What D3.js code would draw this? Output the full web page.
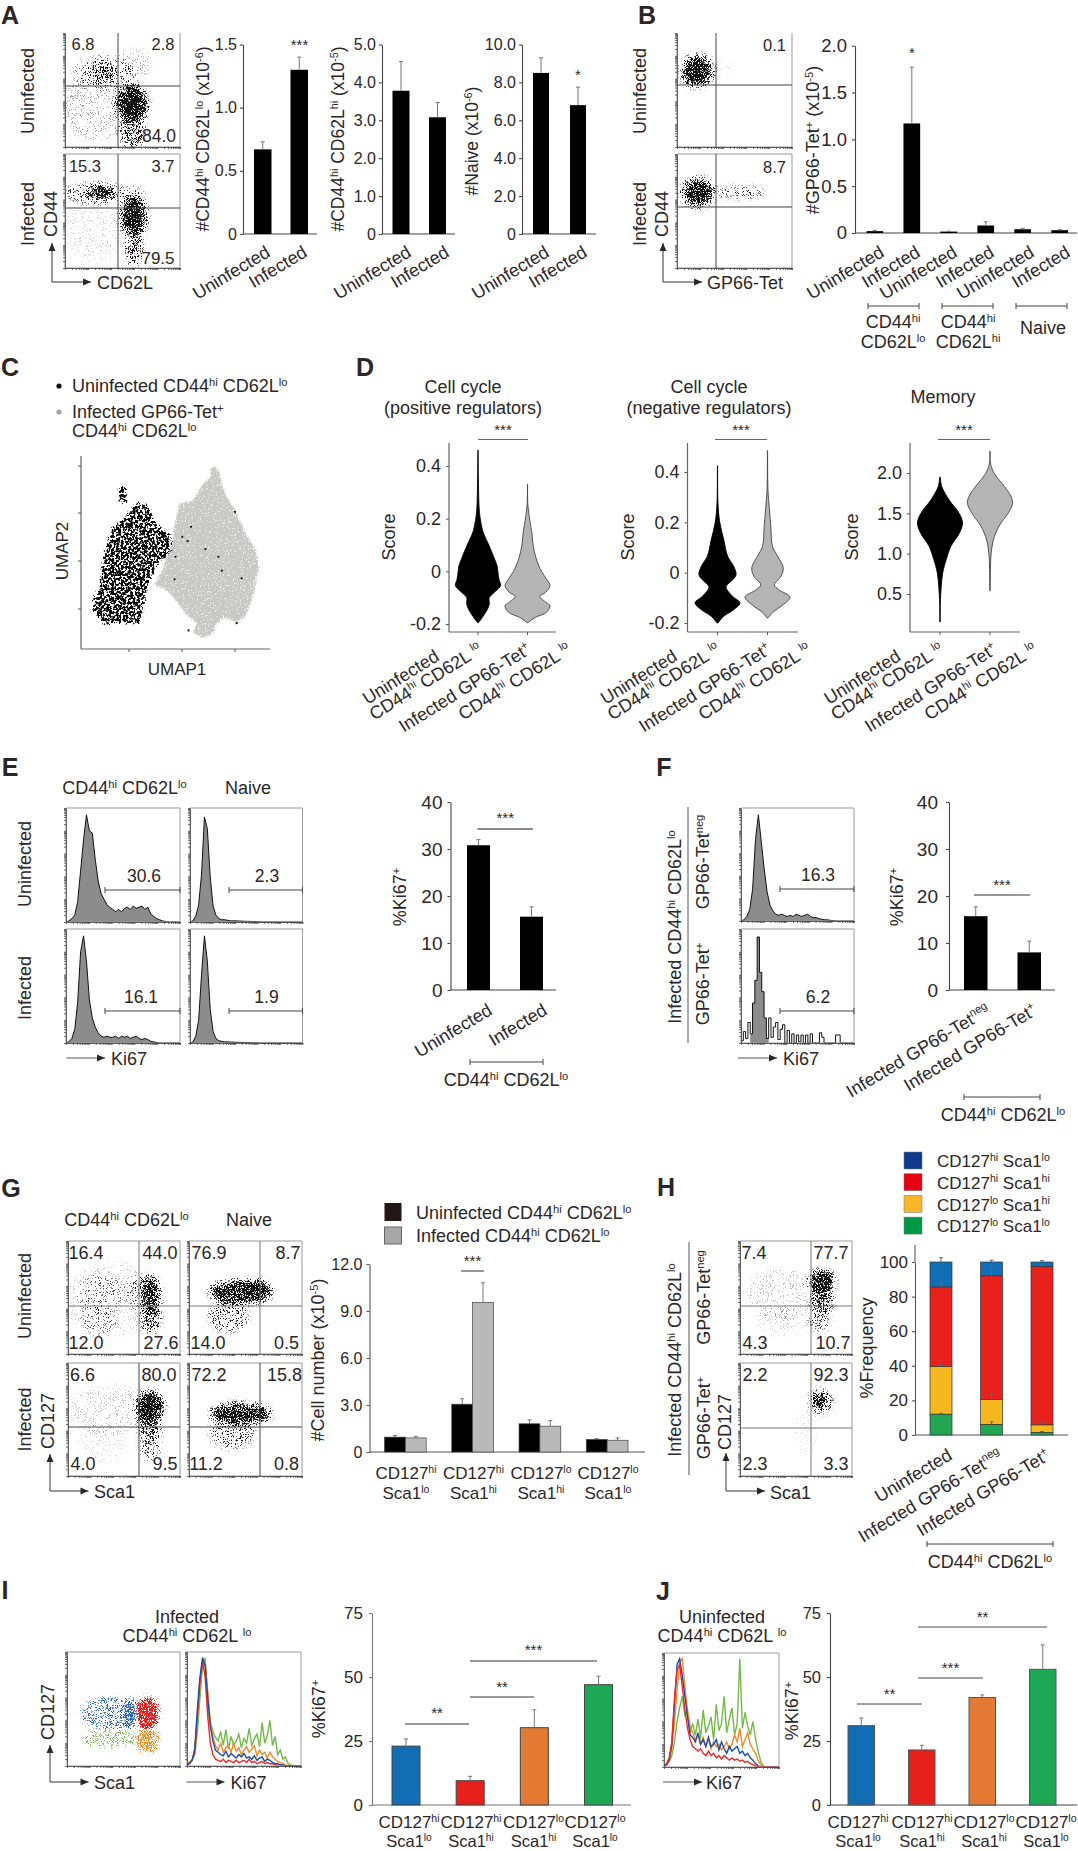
<!DOCTYPE html>
<html>
<head>
<meta charset="utf-8">
<script src="https://cdnjs.cloudflare.com/ajax/libs/d3/7.8.5/d3.min.js"></script>
<style>
body { margin: 0; background: #fff; }
svg { display: block; }
text { font-family: "Liberation Sans", Arial, sans-serif; fill: #2b2627; }
</style>
</head>
<body>
<svg id="fig" width="1078" height="1851"></svg>
<script>
/* SECTION: values */

var twoGroups = ["Uninfected", "Infected"];

var a1Values = [0.67, 1.3],  a1Tops = [0.73, 1.4];
var a2Values = [3.78, 3.08], a2Tops = [4.55, 3.47];
var a3Values = [8.5, 6.8],   a3Tops = [9.3, 7.75];
var a1Ticks = [0, 0.5, 1.0, 1.5], a1TickLabels = ["0", "0.5", "1.0", "1.5"];
var a2Ticks = [0, 1, 2, 3, 4, 5], a2TickLabels = ["0", "1.0", "2.0", "3.0", "4.0", "5.0"];
var a3Ticks = [0, 2, 4, 6, 8, 10], a3TickLabels = ["0", "2.0", "4.0", "6.0", "8.0", "10.0"];

var bGroups = ["Uninfected", "Infected", "Uninfected", "Infected", "Uninfected", "Infected"];
var bValues = [0.02, 1.17, 0.015, 0.08, 0.04, 0.03];
var bTops = [0.028, 1.77, 0.02, 0.12, 0.05, 0.035];
var bTicks = [0, 0.5, 1, 1.5, 2], bTickLabels = ["0", "0.5", "1.0", "1.5", "2.0"];

var eValues = [30.8, 15.6], eTops = [32, 17.7];
var fValues = [15.7, 8],    fTops = [17.7, 10.4];
var kiTicks = [0, 10, 20, 30, 40];
var fGroups = ["Infected GP66-Tet^neg^", "Infected GP66-Tet^+^"];

var gUninfected = [0.95, 3.05, 1.8, 0.8], gUninfectedTops = [1.05, 3.4, 2.05, 0.85];
var gInfected = [0.9, 9.55, 1.65, 0.75],  gInfectedTops = [1.0, 10.8, 2.0, 0.9];
var gTicks = [0, 3, 6, 9, 12], gTickLabels = ["0", "3.0", "6.0", "9.0", "12.0"];
var subsetTop = ["CD127^hi^", "CD127^hi^", "CD127^lo^", "CD127^lo^"];
var subsetBottom = ["Sca1^lo^", "Sca1^hi^", "Sca1^hi^", "Sca1^lo^"];

var hGroups = ["Uninfected", "Infected GP66-Tet^neg^", "Infected GP66-Tet^+^"];
var hGreen = [12, 6, 1.5], hYellow = [27.5, 14.5, 4.3], hRed = [46, 71.5, 91.5], hBlue = [14.5, 8, 2.7];
var hGreenTop = [12.6, 7.6, 2], hYellowTop = [40.8, 23.5, 7], hRedTop = [87.5, 97, 98], hBlueTop = [102.5, 101, 100.8];
var hTicks = [0, 20, 40, 60, 80, 100];

var iValues = [23, 9.5, 30.2, 47], iTops = [25.8, 11.2, 37.2, 50.3];
var jValues = [31, 21.5, 42, 53],  jTops = [34, 23.3, 43, 62.5];
var kiTicks75 = [0, 25, 50, 75];

// violins: [score, relative width]
var v1Black = [[0.46,0.005],[0.33,0.02],[0.24,0.05],[0.2,0.1],[0.15,0.22],[0.1,0.48],[0.05,0.72],[0.02,0.85],[0,0.88],[-0.03,0.93],[-0.055,1],[-0.08,0.72],[-0.1,0.5],[-0.125,0.5],[-0.15,0.38],[-0.18,0.15],[-0.195,0.02]];
var v1Gray = [[0.33,0.005],[0.25,0.02],[0.14,0.2],[0.1,0.25],[0.05,0.38],[0,0.62],[-0.03,0.85],[-0.055,1],[-0.08,0.8],[-0.095,0.55],[-0.12,0.85],[-0.13,1],[-0.155,0.85],[-0.175,0.35],[-0.195,0.02]];
var v2Black = [[0.425,0.005],[0.28,0.02],[0.2,0.1],[0.13,0.28],[0.065,0.45],[0.025,0.72],[-0.01,0.82],[-0.05,0.42],[-0.06,0.38],[-0.095,0.68],[-0.12,1],[-0.147,0.72],[-0.173,0.28],[-0.2,0.02]];
var v2Gray = [[0.485,0.005],[0.33,0.02],[0.26,0.08],[0.18,0.15],[0.105,0.22],[0.065,0.45],[0.02,0.7],[-0.015,0.6],[-0.048,0.3],[-0.068,0.5],[-0.097,1],[-0.134,0.6],[-0.154,0.28],[-0.18,0.02]];
var v3Black = [[1.95,0.01],[1.83,0.08],[1.66,0.42],[1.5,0.85],[1.38,1],[1.25,0.85],[1.09,0.48],[0.93,0.28],[0.76,0.12],[0.43,0.02],[0.155,0.01]];
var v3Gray = [[2.27,0.005],[2.11,0.03],[1.99,0.2],[1.83,0.65],[1.7,0.95],[1.62,1],[1.5,0.8],[1.34,0.4],[1.17,0.15],[0.97,0.04],[0.8,0.02],[0.54,0.01]];
var v1Ticks = [-0.2, 0, 0.2, 0.4], v1TickLabels = ["-0.2", "0", "0.2", "0.4"];
var v3Ticks = [0.5, 1, 1.5, 2], v3TickLabels = ["0.5", "1.0", "1.5", "2.0"];

// histograms: % of max per bin along the Ki67 axis
var histE1 = [0,1,3,6,18,45,72,94,80,78,55,36,25,20,15,13,11,9,11,9,12,13,11,14,12,13,14,11,13,7,5,3,2,1,0.5,0,0,0,0,0];
var histE2 = [0,1,5,15,42,92,82,40,14,6,3,2,2,1.5,1,1,1,0.8,0.8,0.6,0.6,0.5,0.4,0.3,0.2,0,0,0,0,0,0,0,0,0,0,0,0,0,0,0];
var histE3 = [0,1,4,12,36,80,94,72,38,22,14,9,6,5,6,5,5,6,4,6,5,6,4,5,6,4,3,4,3,1.5,1,0.5,0,0,0,0,0,0,0,0];
var histE4 = [0,1,6,20,60,94,72,30,10,4,2,1.5,1,1,0.8,0.8,0.6,0.6,0.5,0.5,0.4,0.3,0.2,0,0,0,0,0,0,0,0,0,0,0,0,0,0,0,0,0];
var histF1 = [0,1,4,10,28,72,94,70,46,26,14,9,6,5,6,5,4,5,4,6,5,4,5,6,4,3,3,2,1.5,1,1,0.5,0.3,0,0,0,0,0,0,0];
var histF2 = [2,10,4,18,8,35,55,93,62,45,22,4,22,5,14,18,3,12,16,0,11,0,8,0,7,1,7,0,7,0,8,0,0,0,9,5,0,0,0,0,0,7,7,0,0,0,0,0,0,0];
var histF2Shaded = [0,0,0,0,8,35,55,93,62,45,22,4,0,0,0,0,0,0,0,0,0,0,0,0,0,0,0,0,0,0,0,0,0,0,0,0,0,0,0,0,0,0,0,0,0,0,0,0,0,0];
var histIGreen = [1,3,6,10,30,60,88,95,50,38,30,25,22,30,18,32,15,26,18,22,28,16,24,20,33,18,24,28,17,38,20,27,40,18,26,10,14,6,8,2,1,0,0,0,0];
var histIOrange = [1,2,6,14,40,70,90,92,66,40,26,18,14,20,12,16,18,12,20,13,16,10,14,17,12,15,18,9,14,10,12,7,12,8,6,4,3,2,1,0,0,0,0,0,0];
var histIBlue = [1,2,5,15,50,78,95,88,60,35,22,14,12,10,9,13,8,11,9,7,10,8,11,7,8,6,9,5,7,8,4,6,5,3,2,2,1,1,0,0,0,0,0,0,0];
var histIRed = [1,3,5,12,44,74,92,78,44,20,10,6,5,4,6,3,5,4,3,5,3,4,5,3,6,3,4,2,3,4,2,3,2,2,1,1,1,0,0,0,0,0,0,0,0];
var histJGreen = [1,2,5,10,22,40,52,62,45,48,30,38,28,42,25,50,30,36,44,24,55,32,38,62,30,42,52,28,38,95,34,48,36,28,40,25,14,5,1,0,0,0,0,0,0];
var histJOrange = [1,2,6,16,40,68,92,95,70,50,36,30,24,28,20,26,18,24,16,22,18,20,15,18,22,16,20,28,22,34,18,24,30,20,16,12,6,2,0,0,0,0,0,0,0];
var histJBlue = [1,2,6,20,55,90,95,80,62,44,28,26,22,30,20,24,18,26,18,20,24,15,22,16,12,18,14,16,18,12,14,10,12,8,6,3,1,0,0,0,0,0,0,0,0];
var histJRed = [1,3,8,22,60,85,90,70,50,34,24,18,16,14,16,12,10,14,10,12,8,10,7,10,8,6,8,6,7,5,6,4,5,3,2,1,0,0,0,0,0,0,0,0,0];

// flow plots: populations as [x, y, spread x, spread y, density], axis fractions, y from the top
var flowA1 = [[0.26,0.65,0.27,0.26,0.1],[0.6,0.3,0.14,0.15,0.09],[0.34,0.34,0.24,0.13,0.2],[0.33,0.34,0.1,0.06,0.5],[0.586,0.854,0.09,0.15,0.55],[0.586,0.62,0.12,0.146,0.98]];
var flowA2 = [[0.26,0.66,0.24,0.26,0.05],[0.57,0.37,0.12,0.09,0.18],[0.26,0.34,0.22,0.075,0.34],[0.31,0.34,0.1,0.05,0.9],[0.6,0.82,0.06,0.15,0.55],[0.6,0.545,0.095,0.16,0.98]];
var flowB1 = [[0.4,0.3,0.08,0.05,0.04],[0.175,0.333,0.14,0.14,0.3],[0.175,0.333,0.1,0.105,1]];
var flowB2 = [[0.577,0.335,0.17,0.05,0.26],[0.37,0.34,0.08,0.04,0.14],[0.178,0.335,0.14,0.13,0.3],[0.178,0.335,0.1,0.095,1]];
var flowG11 = [[0.41,0.52,0.4,0.3,0.05],[0.29,0.46,0.2,0.15,0.14],[0.27,0.7,0.15,0.12,0.14],[0.65,0.46,0.11,0.15,0.24],[0.74,0.7,0.08,0.1,0.48],[0.74,0.49,0.07,0.16,0.8]];
var flowG12 = [[0.35,0.67,0.16,0.12,0.3],[0.46,0.45,0.25,0.09,0.85],[0.6,0.44,0.11,0.08,0.98]];
var flowG21 = [[0.38,0.42,0.33,0.2,0.07],[0.29,0.74,0.2,0.15,0.04],[0.74,0.76,0.09,0.09,0.28],[0.73,0.58,0.09,0.09,0.56],[0.73,0.39,0.11,0.12,0.98]];
var flowG22 = [[0.38,0.62,0.18,0.12,0.3],[0.46,0.45,0.24,0.08,0.9]];
var flowH1 = [[0.36,0.46,0.27,0.2,0.07],[0.36,0.7,0.2,0.12,0.05],[0.71,0.7,0.09,0.09,0.26],[0.73,0.53,0.09,0.1,0.6],[0.73,0.36,0.1,0.09,1]];
var flowH2 = [[0.6,0.6,0.1,0.2,0.03],[0.72,0.34,0.1,0.1,0.3],[0.72,0.34,0.05,0.05,1]];
var flowIBlue = [[0.38,0.54,0.24,0.13,0.36],[0.56,0.54,0.05,0.12,0.7]];
var flowIRed = [[0.71,0.54,0.09,0.13,0.92]];
var flowIGreen = [[0.38,0.76,0.22,0.08,0.36]];
var flowIOrange = [[0.71,0.77,0.09,0.1,0.72]];

// quadrant percentages, clockwise from top left
var quadA1 = ["6.8", "2.8", "84.0"], quadA2 = ["15.3", "3.7", "79.5"];
var quadG11 = ["16.4", "44.0", "27.6", "12.0"], quadG12 = ["76.9", "8.7", "0.5", "14.0"];
var quadG21 = ["6.6", "80.0", "9.5", "4.0"],   quadG22 = ["72.2", "15.8", "0.8", "11.2"];
var quadH1 = ["7.4", "77.7", "10.7", "4.3"],   quadH2 = ["2.2", "92.3", "3.3", "2.3"];

// UMAP outlines, axis fractions
var umapGray = [[0.709,0.95],[0.736,0.921],[0.745,0.861],[0.773,0.79],[0.818,0.721],[0.845,0.661],[0.882,0.584],[0.927,0.515],[0.945,0.427],[0.927,0.341],[0.909,0.255],[0.873,0.169],[0.827,0.134],[0.755,0.16],[0.709,0.117],[0.709,0.083],[0.645,0.053],[0.591,0.083],[0.609,0.134],[0.555,0.177],[0.482,0.272],[0.445,0.306],[0.382,0.332],[0.427,0.41],[0.482,0.565],[0.491,0.634],[0.518,0.754],[0.591,0.771],[0.645,0.857],[0.682,0.892],[0.682,0.935]];
var umapBlack = [[0.2,0.65],[0.3,0.76],[0.36,0.74],[0.38,0.665],[0.482,0.582],[0.473,0.496],[0.409,0.444],[0.355,0.341],[0.336,0.238],[0.309,0.134],[0.209,0.134],[0.118,0.126],[0.064,0.203],[0.064,0.263],[0.1,0.323],[0.118,0.478],[0.164,0.633]];
var umapBlackTop = [[0.214,0.845],[0.241,0.84],[0.236,0.788],[0.25,0.762],[0.205,0.757],[0.2,0.797],[0.2,0.832]];
var umapStray = [[0.815,0.71],[0.582,0.633],[0.536,0.581],[0.564,0.559],[0.658,0.518],[0.727,0.478],[0.5,0.478],[0.745,0.406],[0.495,0.361],[0.85,0.366],[0.569,0.096],[0.824,0.134]];

/* SECTION: helpers */

var svg = d3.select("#fig");
var defs = svg.append("defs");
var ink = "#2b2627";

function makeStipple(id, color, blur, freq, thresh) {
  var f = defs.append("filter").attr("id", id)
    .attr("x", -0.4).attr("y", -0.4).attr("width", 1.8).attr("height", 1.8)
    .attr("color-interpolation-filters", "sRGB");
  f.append("feGaussianBlur").attr("in", "SourceAlpha").attr("stdDeviation", blur).attr("result", "b");
  f.append("feTurbulence").attr("type", "fractalNoise").attr("baseFrequency", freq).attr("numOctaves", 2).attr("seed", 4).attr("result", "t");
  f.append("feColorMatrix").attr("in", "t").attr("type", "matrix")
    .attr("values", "0 0 0 0 0  0 0 0 0 0  0 0 0 0 0  3 0 0 0 -1").attr("result", "n");
  f.append("feComposite").attr("in", "b").attr("in2", "n").attr("operator", "arithmetic")
    .attr("k1", 0).attr("k2", 4).attr("k3", 4).attr("k4", -4 * (thresh || 1)).attr("result", "m");
  // a lower threshold would speckle the empty space too, so keep it inside the shape
  if (thresh) f.append("feComposite").attr("in", "m").attr("in2", "b").attr("operator", "in").attr("result", "m");
  f.append("feFlood").attr("flood-color", color).attr("result", "c");
  f.append("feComposite").attr("in", "c").attr("in2", "m").attr("operator", "in");
}
makeStipple("dotsBlack", "#111", 3, 1.4);
makeStipple("dotsBlue", "#2a63b4", 2.5, 1.4);
makeStipple("dotsRed", "#e5201e", 2.5, 1.4);
makeStipple("dotsGreen", "#77bb55", 2.5, 1.4);
makeStipple("dotsOrange", "#ee8f2c", 2.5, 1.4);
makeStipple("umapGrayDots", "#c8c8c6", 1.2, 0.6, 0.9);
makeStipple("umapBlackDots", "#0c0c0c", 1.2, 0.42);

// text with ^superscripts^
function rich(sel, str, size) {
  var parts = str.split("^");
  var shift = size * 0.38;
  parts.forEach(function(p, i) {
    if (!p) return;
    var t = sel.append("tspan").text(p);
    if (i % 2) {
      t.style("font-size", (size * 0.62) + "px").attr("dy", -shift);
    } else if (i > 0) {
      t.attr("dy", shift);
    }
  });
}

function label(x, y, str, opt) {
  opt = opt || {};
  var size = opt.size || 18;
  var g = svg.append("g").attr("transform", "translate(" + x + "," + y + ") rotate(" + (opt.rot || 0) + ")");
  var t = g.append("text").attr("y", size * 0.36)
    .attr("text-anchor", opt.anchor || "middle")
    .style("font-size", size + "px");
  if (opt.weight) t.style("font-weight", opt.weight);
  rich(t, str, size);
  return t;
}

function panelLetter(x, y, s) {
  label(x, y, s, { size: 25, weight: "bold" });
}

function rule(x1, y1, x2, y2, color, w) {
  svg.append("line").attr("x1", x1).attr("y1", y1).attr("x2", x2).attr("y2", y2)
    .attr("stroke", color || ink).attr("stroke-width", w || 1);
}

function sig(x1, x2, y, stars, ys, color, w) {
  rule(x1, y, x2, y, color || "#444", w || 1);
  label((x1 + x2) / 2, ys, stars, { size: 15 });
}

function bracket(x1, x2, y) {
  rule(x1, y, x2, y, "#444", 1);
  rule(x1, y - 3, x1, y + 3, "#444", 1);
  rule(x2, y - 3, x2, y + 3, "#444", 1);
}

function arrowHead(x, y, dir) {
  var p = dir == "up" ? [[x, y], [x - 3.5, y + 8], [x + 3.5, y + 8]] : [[x, y], [x - 8, y - 3.5], [x - 8, y + 3.5]];
  svg.append("path").attr("d", d3.line()(p) + "Z").attr("fill", ink);
}

function arrowL(cx, cy, top, right) {
  rule(cx, cy, cx, top, "#333", 1);
  rule(cx, cy, right, cy, "#333", 1);
  arrowHead(cx, top, "up");
  arrowHead(right, cy, "right");
}

function arrowR(x1, x2, y) {
  rule(x1, y, x2, y, "#555", 1.2);
  arrowHead(x2, y, "right");
}

/* SECTION: bars */

function barAxes(o, y) {
  var ax = d3.axisLeft(y).tickValues(o.ticks).tickSize(o.tickSize || 3).tickPadding(o.tickPad || 3).tickSizeOuter(0);
  ax.tickFormat(function(d, i) { return o.tickLabels ? o.tickLabels[i] : d; });
  var g = svg.append("g").attr("transform", "translate(" + o.axisX + ",0)").call(ax);
  g.selectAll("path,line").attr("stroke", o.axisColor || "#444").attr("stroke-width", 1.1);
  g.selectAll("text").style("font-size", (o.tickFont || 16) + "px").attr("fill", ink).attr("font-family", null);
  rule(o.axisX, o.y0, o.xEnd, o.y0, o.axisColor || "#444", 1.2);
}

function bandFor(n, left, right, width) {
  var gap = n > 1 ? (right - left - n * width) / (n - 1) : 0;
  return d3.scaleBand().domain(d3.range(n)).range([left, right]).paddingInner(gap / (gap + width));
}

function barChart(o) {
  var y = d3.scaleLinear().domain([0, o.max]).range([o.y0, o.y1]);
  var x = bandFor(o.values.length, o.left, o.right, o.barWidth);
  barAxes(o, y);
  var g = svg.append("g");
  o.tops.forEach(function(t, i) {
    var cx = x(i) + x.bandwidth() / 2;
    rule(cx, y(o.values[i]), cx, y(t), "#777", 1);
    rule(cx - 2, y(t), cx + 2, y(t), "#777", 1);
  });
  g.selectAll("rect").data(o.values).enter().append("rect")
    .attr("x", function(d, i) { return x(i); })
    .attr("width", x.bandwidth())
    .attr("y", function(d) { return y(d); })
    .attr("height", function(d) { return y(0) - y(d); })
    .attr("fill", function(d, i) { return o.colors ? o.colors[i] : "#000"; })
    .attr("stroke", o.barStroke || "none");
  return { x: x, y: y };
}

function rotLabels(list, ends, y, size) {
  list.forEach(function(s, i) {
    label(ends[i], y, s, { rot: -31, anchor: "end", size: size || 18 });
  });
}

/* SECTION: flow plots and histograms */

function flowFrame(o) {
  var lx = d3.scaleLog().domain([1, 100000]).range([o.x0, o.x1]);
  var ly = d3.scaleLog().domain([1, 100000]).range([o.y1, o.y0]);
  // first row of A and B has no top edge
  var sides = o.noTop ? [[o.x0, o.y0], [o.x0, o.y1], [o.x1, o.y1], [o.x1, o.y0]]
                      : [[o.x0, o.y0], [o.x0, o.y1], [o.x1, o.y1], [o.x1, o.y0], [o.x0, o.y0]];
  svg.append("path").attr("d", d3.line()(sides))
    .attr("fill", "none").attr("stroke", "#999").attr("stroke-width", 1);
  var b = svg.append("g").attr("transform", "translate(0," + o.y1 + ")")
    .call(d3.axisBottom(lx).tickSize(2).tickFormat("").tickSizeOuter(0));
  var l = svg.append("g").attr("transform", "translate(" + o.x0 + ",0)")
    .call(d3.axisLeft(ly).tickSize(2).tickFormat("").tickSizeOuter(0));
  b.selectAll("path,line").attr("stroke", "#444").attr("stroke-width", 0.8);
  l.selectAll("path,line").attr("stroke", "#444").attr("stroke-width", 0.8);
}

var clipCount = 0;
var spreadBoost = 1.12;
function cloud(o, blobs, filterId, clip) {
  var x = d3.scaleLinear().domain([0, 1]).range([o.x0, o.x1]);
  var y = d3.scaleLinear().domain([0, 1]).range([o.y0, o.y1]);
  var sx = d3.scaleLinear().domain([0, 1]).range([0, o.x1 - o.x0]);
  var sy = d3.scaleLinear().domain([0, 1]).range([0, o.y1 - o.y0]);
  var id = "clip" + (clipCount++);
  var c = clip || [0, 0, 1, 1];
  defs.append("clipPath").attr("id", id).append("rect")
    .attr("x", x(c[0])).attr("y", y(c[1])).attr("width", sx(c[2] - c[0])).attr("height", sy(c[3] - c[1]));
  var g = svg.append("g").attr("clip-path", "url(#" + id + ")").append("g").attr("filter", "url(#" + filterId + ")");
  g.selectAll("ellipse").data(blobs).enter().append("ellipse")
    .attr("cx", function(d) { return x(d[0]); })
    .attr("cy", function(d) { return y(d[1]); })
    .attr("rx", function(d) { return sx(d[2]) * spreadBoost; })
    .attr("ry", function(d) { return sy(d[3]) * spreadBoost; })
    .attr("fill", "#000")
    .attr("fill-opacity", function(d) { return d[4]; });
}

function flow(o, blobs) {
  cloud(o, blobs, "dotsBlack");
  flowFrame(o);
  rule(o.gx, o.y0, o.gx, o.y1, o.gateColor || "#444", 1);
  rule(o.x0, o.gy, o.x1, o.gy, o.gateColor || "#444", 1);
}

function histLayer(o, values, line, fill) {
  var x = d3.scaleLinear().domain([0, values.length - 1]).range([o.x0, o.x1]);
  var y = d3.scaleLinear().domain([0, 100]).range([o.y1, o.y0]);
  var curve = o.curve || d3.curveLinear;
  if (fill) {
    svg.append("path").datum(values)
      .attr("d", d3.area().x(function(d, i) { return x(i); }).y0(o.y1).y1(function(d) { return y(d); }).curve(curve))
      .attr("fill", fill).attr("stroke", "none");
  }
  if (line) {
    svg.append("path").datum(values)
      .attr("d", d3.line().x(function(d, i) { return x(i); }).y(function(d) { return y(d); }).curve(curve))
      .attr("fill", "none").attr("stroke", line).attr("stroke-width", o.lineW || 1);
  }
}

function hist(o, values, gateFrom, pct, pctX, shaded) {
  if (shaded) {
    histLayer(o, shaded, null, "#8c8c8c");
    histLayer(o, values, "#111");
  } else {
    histLayer(o, values, "#111", "#8c8c8c");
  }
  flowFrame(o);
  bracket(gateFrom, o.x1, o.gy);
  label(pctX, o.gy - 14, pct, { size: 17.5 });
}

function violin(cx, y, series, fill, stroke) {
  var w = d3.scaleLinear().domain([0, 1]).range([0, 22.5]);
  var area = d3.area()
    .y(function(d) { return y(d[0]); })
    .x0(function(d) { return cx - w(d[1]); })
    .x1(function(d) { return cx + w(d[1]); })
    .curve(d3.curveCatmullRom.alpha(0.5));
  svg.append("path").datum(series).attr("d", area)
    .attr("fill", fill).attr("stroke", stroke).attr("stroke-width", 0.9);
}

function violinPanel(o) {
  var y = d3.scaleLinear().domain(o.domain).range(o.range);
  var g = svg.append("g").attr("transform", "translate(" + o.axisX + ",0)")
    .call(d3.axisLeft(y).tickValues(o.ticks).tickSize(3).tickPadding(5)
      .tickFormat(function(d, i) { return o.tickLabels[i]; }).tickSizeOuter(0));
  g.selectAll("path,line").attr("stroke", "#555");
  g.select("path.domain").remove();
  g.selectAll("text").style("font-size", "18px").attr("fill", ink);
  rule(o.axisX, 443, o.axisX, 632, "#666", 1.2);
  rule(o.axisX, 632, o.xEnd, 632, "#666", 1.2);
  var x = d3.scalePoint().domain(["u", "i"]).range(o.cats);
  x.domain().forEach(function(k) { rule(x(k), 632, x(k), 635, "#555", 1); });
  violin(x("u"), y, o.black, "#000", "#000");
  violin(x("i"), y, o.gray, "#b4b4b4", "#444");
  sig(o.sig[0], o.sig[1], 439.5, "***", 429.5, "#666", 1.2);
  label(o.scoreX, 537, "Score", { rot: -90 });
  // category labels, both lines end-anchored along the slope
  label(o.end1, 647, "CD44^hi^ CD62L ^lo^", { rot: -32, anchor: "end" });
  label(o.end1 - 43, 654, "Uninfected", { rot: -32, anchor: "end" });
  label(o.end2, 647, "CD44^hi^ CD62L ^lo^", { rot: -32, anchor: "end" });
  label(o.end2 - 40, 647, "Infected GP66-Tet^+^", { rot: -32, anchor: "end" });
}

/* SECTION: panel A */

panelLetter(10, 15, "A");
var a1 = { x0: 65, x1: 180, y0: 33, y1: 147, gx: 118, gy: 86, noTop: true };
var a2 = { x0: 65, x1: 180, y0: 154, y1: 268, gx: 118, gy: 208 };
flow(a1, flowA1); flow(a2, flowA2);
var quadA = { size: 16.5 };
label(83, 44, quadA1[0], quadA); label(163, 44, quadA1[1], quadA); label(159, 136, quadA1[2], { size: 17.5 });
label(85, 166, quadA2[0], quadA); label(163, 166, quadA2[1], quadA); label(158, 258, quadA2[2], { size: 17 });
label(28, 91, "Uninfected", { rot: -90 });
label(28, 214, "Infected", { rot: -90 });
label(51, 214, "CD44", { rot: -90 });
arrowL(52, 282, 243, 91);
label(97, 283, "CD62L", { anchor: "start" });

barChart({ axisX: 243, xEnd: 317, y0: 234, y1: 44.5, max: 1.5, ticks: a1Ticks, tickLabels: a1TickLabels, values: a1Values, tops: a1Tops, left: 254, right: 308, barWidth: 17.5 });
barChart({ axisX: 382, xEnd: 455, y0: 234, y1: 44.5, max: 5, ticks: a2Ticks, tickLabels: a2TickLabels, values: a2Values, tops: a2Tops, left: 392.5, right: 446, barWidth: 17 });
barChart({ axisX: 522, xEnd: 596, y0: 234, y1: 44.5, max: 10, ticks: a3Ticks, tickLabels: a3TickLabels, values: a3Values, tops: a3Tops, left: 533, right: 586, barWidth: 16 });
label(203, 139, "#CD44^hi^ CD62L^lo^ (x10^-6^)", { rot: -90, size: 17.5 });
label(338, 139, "#CD44^hi^ CD62L^hi^ (x10^-5^)", { rot: -90, size: 17.5 });
label(472, 141, "#Naive (x10^-6^)", { rot: -90, size: 17.5 });
label(299.5, 45, "***", { size: 15 });
label(578, 75, "*", { size: 15 });
rotLabels(twoGroups, [268, 305], 250);
rotLabels(twoGroups, [409, 447], 250);
rotLabels(twoGroups, [547, 585], 250);

/* SECTION: panel B */

panelLetter(647, 15, "B");
var b1 = { x0: 677, x1: 792, y0: 33, y1: 147, gx: 716, gy: 85, noTop: true };
var b2 = { x0: 677, x1: 792, y0: 154, y1: 268, gx: 716, gy: 207 };
flow(b1, flowB1); flow(b2, flowB2);
label(786, 45, "0.1", { anchor: "end", size: 16.5 }); label(786, 167, "8.7", { anchor: "end", size: 16.5 });
label(640, 91, "Uninfected", { rot: -90 });
label(640, 214, "Infected", { rot: -90 });
label(662, 214, "CD44", { rot: -90 });
arrowL(663, 282, 243, 702);
label(707, 283, "GP66-Tet", { anchor: "start" });
barChart({ axisX: 855, xEnd: 1077, y0: 233, y1: 45.7, max: 2, ticks: bTicks, tickLabels: bTickLabels, values: bValues, tops: bTops, left: 866.5, right: 1068, barWidth: 16.7, tickFont: 18.5, tickPad: 5 });
label(813, 140, "#GP66-Tet^+^ (x10^-5^)", { rot: -90 });
label(912, 53, "*", { size: 15 });
rotLabels(bGroups, [882, 918, 955, 992, 1032, 1068], 250);
bracket(868, 919, 306); bracket(942, 993, 306); bracket(1016, 1067, 306);
label(893, 322, "CD44^hi^"); label(893, 342, "CD62L^lo^");
label(968, 322, "CD44^hi^"); label(968, 342, "CD62L^hi^");
label(1043, 328, "Naive");

/* SECTION: panel C */

panelLetter(10, 367, "C");
svg.append("circle").attr("cx", 59).attr("cy", 386).attr("r", 2.6).attr("fill", "#111");
svg.append("circle").attr("cx", 59).attr("cy", 412).attr("r", 2.6).attr("fill", "#a5a5a5");
label(72, 386, "Uninfected CD44^hi^ CD62L^lo^", { anchor: "start" });
label(72, 412, "Infected GP66-Tet^+^", { anchor: "start" });
label(72, 431, "CD44^hi^ CD62L^lo^", { anchor: "start" });

var umapX = d3.scaleLinear().domain([0, 1]).range([81, 270]);
var umapY = d3.scaleLinear().domain([0, 1]).range([649, 456]);
var umapLine = d3.line().x(function(d) { return umapX(d[0]); }).y(function(d) { return umapY(d[1]); });
svg.append("g").attr("filter", "url(#umapGrayDots)").append("path")
  .attr("d", umapLine(umapGray) + "Z").attr("fill", "#000").attr("fill-opacity", 1);
var umapB = svg.append("g").attr("filter", "url(#umapBlackDots)");
umapB.append("path").attr("d", umapLine(umapBlack) + "Z").attr("fill", "#000").attr("fill-opacity", 0.74);
umapB.append("path").attr("d", umapLine(umapBlackTop) + "Z").attr("fill", "#000").attr("fill-opacity", 0.8);
svg.append("g").selectAll("circle").data(umapStray).enter().append("circle")
  .attr("cx", function(d) { return umapX(d[0]); }).attr("cy", function(d) { return umapY(d[1]); })
  .attr("r", 1.1).attr("fill", "#111");
rule(81, 456, 81, 649, "#666", 1.2);
rule(81, 649, 270, 649, "#666", 1.2);
[466, 513, 561, 609].forEach(function(v) { rule(78, v, 81, v, "#555", 1); });
[129, 182, 235].forEach(function(v) { rule(v, 649, v, 652, "#555", 1); });
label(62, 551, "UMAP2", { rot: -90, size: 17 });
label(177, 669, "UMAP1", { size: 17 });

/* SECTION: panel D */

panelLetter(365, 367, "D");
label(463, 387, "Cell cycle");
label(463, 408, "(positive regulators)");
label(709, 387, "Cell cycle");
label(709, 408, "(negative regulators)");
label(943, 397, "Memory");
violinPanel({ axisX: 449, xEnd: 556, domain: [-0.2, 0.4], range: [624, 466], ticks: v1Ticks, tickLabels: v1TickLabels, cats: [478, 527.5], black: v1Black, gray: v1Gray, sig: [478, 528], scoreX: 389, end1: 480, end2: 569 });
violinPanel({ axisX: 687.5, xEnd: 798, domain: [-0.2, 0.4], range: [623, 472], ticks: v1Ticks, tickLabels: v1TickLabels, cats: [717.5, 767.5], black: v2Black, gray: v2Gray, sig: [715, 767], scoreX: 627.5, end1: 718, end2: 809 });
violinPanel({ axisX: 910, xEnd: 1020, domain: [0.5, 2], range: [594, 473], ticks: v3Ticks, tickLabels: v3TickLabels, cats: [940, 990], black: v3Black, gray: v3Gray, sig: [938, 990], scoreX: 852, end1: 941.5, end2: 1035 });

/* SECTION: panel E */

panelLetter(10, 767, "E");
label(124.5, 788, "CD44^hi^ CD62L^lo^");
label(248, 788, "Naive");
hist({ x0: 66, x1: 180, y0: 808, y1: 922, gy: 890 }, histE1, 105, "30.6", 144);
hist({ x0: 190, x1: 302.5, y0: 808, y1: 922, gy: 890 }, histE2, 229, "2.3", 267);
hist({ x0: 66, x1: 180, y0: 929, y1: 1043, gy: 1011 }, histE3, 105, "16.1", 141);
hist({ x0: 190, x1: 302.5, y0: 929, y1: 1043, gy: 1011 }, histE4, 229, "1.9", 266.5);
label(25, 864, "Uninfected", { rot: -90 });
label(25, 988, "Infected", { rot: -90 });
arrowR(66.5, 105, 1058);
label(111, 1059, "Ki67", { anchor: "start" });
barChart({ axisX: 450.5, xEnd: 556, y0: 990, y1: 802, max: 40, ticks: kiTicks, values: eValues, tops: eTops, left: 467, right: 543, barWidth: 23, tickPad: 5, tickFont: 19 });
sig(477.5, 533, 829, "***", 818, "#666", 1.4);
label(400, 897, "%Ki67^+^", { rot: -90 });
rotLabels(twoGroups, [490, 545], 1008);
bracket(470, 543, 1062);
label(506, 1080, "CD44^hi^ CD62L^lo^");

/* SECTION: panel F */

panelLetter(664, 767, "F");
hist({ x0: 741, x1: 854, y0: 808, y1: 921, gy: 889 }, histF1, 780, "16.3", 818);
hist({ x0: 741, x1: 854, y0: 929, y1: 1043, gy: 1011, curve: d3.curveStepAfter }, histF2, 780, "6.2", 818, histF2Shaded);
label(675, 927, "Infected CD44^hi^ CD62L^lo^", { rot: -90 });
rule(688, 807, 688, 1043, "#555", 1);
label(703, 862, "GP66-Tet^neg^", { rot: -90 });
label(703, 984, "GP66-Tet^+^", { rot: -90 });
arrowR(738, 777, 1058);
label(783, 1059, "Ki67", { anchor: "start" });
barChart({ axisX: 949, xEnd: 1055, y0: 990, y1: 802, max: 40, ticks: kiTicks, values: fValues, tops: fTops, left: 964, right: 1041, barWidth: 23.5, tickPad: 8, tickFont: 19 });
sig(974, 1030, 895, "***", 885, "#333", 1);
label(897, 897, "%Ki67^+^", { rot: -90 });
rotLabels(fGroups, [988, 1035], 1008);
bracket(964, 1040, 1097);
label(1003, 1115, "CD44^hi^ CD62L^lo^");

/* SECTION: panel G */

panelLetter(11, 1188, "G");
label(126.5, 1220, "CD44^hi^ CD62L^lo^");
label(249, 1220, "Naive");
flow({ x0: 68, x1: 180, y0: 1241, y1: 1354, gx: 139, gy: 1306, gateColor: "#777" }, flowG11);
flow({ x0: 189, x1: 302, y0: 1241, y1: 1354, gx: 260, gy: 1306, gateColor: "#777" }, flowG12);
flow({ x0: 68, x1: 180, y0: 1363, y1: 1476, gx: 139, gy: 1427 }, flowG21);
flow({ x0: 189, x1: 302, y0: 1363, y1: 1476, gx: 260, gy: 1427 }, flowG22);
var gXs = [[86, 160, 161, 86], [209, 288, 286.5, 208], [82.5, 159, 165, 83], [209, 284.5, 286.5, 206]];
[quadG11, quadG12, quadG21, quadG22].forEach(function(q, i) {
  var top = i < 2 ? 1253 : 1375, bot = i < 2 ? 1343 : 1464;
  label(gXs[i][0], top, q[0]); label(gXs[i][1], top, q[1]);
  label(gXs[i][2], bot, q[2]); label(gXs[i][3], bot, q[3]);
});
label(24.5, 1296, "Uninfected", { rot: -90 });
label(24.5, 1419.5, "Infected", { rot: -90 });
label(48, 1421, "CD127", { rot: -90 });
arrowL(50, 1491, 1454, 88.5);
label(94, 1492, "Sca1", { anchor: "start" });
svg.append("rect").attr("x", 384.5).attr("y", 1203).attr("width", 17).attr("height", 18).attr("fill", "#231815");
svg.append("rect").attr("x", 384.5).attr("y", 1227).attr("width", 17).attr("height", 17).attr("fill", "#a8a8a8").attr("stroke", "#666");
label(416, 1213, "Uninfected CD44^hi^ CD62L^lo^", { anchor: "start" });
label(416, 1236, "Infected CD44^hi^ CD62L^lo^", { anchor: "start" });

(function() {
  var y = d3.scaleLinear().domain([0, 12]).range([1452, 1264]);
  var x0 = d3.scaleBand().domain(d3.range(4)).range([384.5, 628]).paddingInner(0.38);
  var o = { axisX: 369.5, xEnd: 645, y0: 1452, ticks: gTicks, tickLabels: gTickLabels, tickPad: 4, axisColor: "#555" };
  barAxes(o, y);
  var x1 = d3.scaleBand().domain([0, 1]).range([0, x0.bandwidth()]);
  [[gUninfected, gUninfectedTops, "#000"], [gInfected, gInfectedTops, "#b9b9b9"]].forEach(function(s, k) {
    s[0].forEach(function(v, i) {
      var cx = x0(i) + x1(k) + x1.bandwidth() / 2;
      rule(cx, y(v), cx, y(s[1][i]), "#777", 1);
      rule(cx - 2, y(s[1][i]), cx + 2, y(s[1][i]), "#777", 1);
      svg.append("rect").attr("x", x0(i) + x1(k)).attr("width", x1.bandwidth())
        .attr("y", y(v)).attr("height", y(0) - y(v)).attr("fill", s[2])
        .attr("stroke", "#444").attr("stroke-width", 0.7);
    });
  });
})();
sig(461, 484, 1271, "***", 1261, "#333", 1);
label(318, 1360, "#Cell number (x10^-5^)", { rot: -90 });
var gCenters = [406, 473.5, 541, 608];
subsetTop.forEach(function(s, i) { label(gCenters[i], 1473, s, { size: 17 }); });
subsetBottom.forEach(function(s, i) { label(gCenters[i], 1493, s, { size: 17 }); });

/* SECTION: panel H */

panelLetter(666, 1187, "H");
var hLegend = [["#0f3a8c", "CD127^hi^ Sca1^lo^"], ["#e60012", "CD127^hi^ Sca1^hi^"], ["#f9b62a", "CD127^lo^ Sca1^hi^"], ["#009944", "CD127^lo^ Sca1^lo^"]];
hLegend.forEach(function(l, i) {
  var ys = 1152 + i * 21.7;
  svg.append("rect").attr("x", 904).attr("y", ys).attr("width", 18).attr("height", 17).attr("fill", l[0]).attr("stroke", "#777").attr("stroke-width", 0.5);
  label(937, ys + 9, l[1], { anchor: "start", size: 17 });
});
flow({ x0: 740, x1: 852, y0: 1241, y1: 1354, gx: 811, gy: 1306, gateColor: "#777" }, flowH1);
flow({ x0: 740, x1: 852, y0: 1363, y1: 1476, gx: 811, gy: 1428, gateColor: "#777" }, flowH2);
label(754, 1253, quadH1[0]); label(831, 1253, quadH1[1]); label(833, 1343, quadH1[2]); label(755, 1343, quadH1[3]);
label(755, 1375, quadH2[0]); label(831, 1375, quadH2[1]); label(836, 1464, quadH2[2]); label(755, 1464, quadH2[3]);
label(675, 1360, "Infected CD44^hi^ CD62L^lo^", { rot: -90 });
rule(689, 1242, 689, 1475, "#555", 1);
label(704, 1297.5, "GP66-Tet^neg^", { rot: -90 });
label(704, 1418, "GP66-Tet^+^", { rot: -90 });
label(725, 1422, "CD127", { rot: -90 });
arrowL(726, 1491, 1453, 765);
label(770, 1493, "Sca1", { anchor: "start" });

(function() {
  var y = d3.scaleLinear().domain([0, 100]).range([1435, 1262]);
  var x = bandFor(3, 930, 1053, 22);
  barAxes({ axisX: 915, xEnd: 1068, y0: 1435, ticks: hTicks, tickPad: 4, axisColor: "#555", tickFont: 17 }, y);
  rule(915, 1245, 915, 1262, "#555", 1.1);
  var keys = ["green", "yellow", "red", "blue"];
  var rows = hGroups.map(function(g, i) { return { green: hGreen[i], yellow: hYellow[i], red: hRed[i], blue: hBlue[i] }; });
  var colors = { green: "#22a652", yellow: "#f5b81f", red: "#e8211c", blue: "#1170b5" };
  var tops = { green: hGreenTop, yellow: hYellowTop, red: hRedTop, blue: hBlueTop };
  d3.stack().keys(keys)(rows).reverse().forEach(function(layer) {
    layer.forEach(function(d, i) {
      svg.append("rect").attr("x", x(i)).attr("width", x.bandwidth())
        .attr("y", y(d[1])).attr("height", y(d[0]) - y(d[1]))
        .attr("fill", colors[layer.key]).attr("stroke", "#333").attr("stroke-width", 0.7);
    });
  });
  keys.forEach(function(k) {
    tops[k].forEach(function(t, i) {
      var cx = x(i) + x.bandwidth() / 2;
      var base = d3.stack().keys(keys)(rows)[keys.indexOf(k)][i][1];
      rule(cx, y(base), cx, y(t), "#666", 1);
      rule(cx - 2, y(t), cx + 2, y(t), "#666", 1);
    });
  });
})();
label(867, 1348, "%Frequency", { rot: -90 });
rotLabels(hGroups, [950, 1000, 1048], 1453);
bracket(927, 1053, 1544);
label(990, 1562, "CD44^hi^ CD62L^lo^");

/* SECTION: panel I */

panelLetter(5, 1590, "I");
label(187, 1617, "Infected");
label(187, 1636, "CD44^hi^ CD62L ^lo^");
var iScatter = { x0: 67, x1: 180, y0: 1652, y1: 1766 };
cloud(iScatter, flowIBlue, "dotsBlue", [0, 0, 0.614, 0.677]);
cloud(iScatter, flowIRed, "dotsRed", [0.614, 0, 1, 0.677]);
cloud(iScatter, flowIGreen, "dotsGreen", [0, 0.677, 0.614, 1]);
cloud(iScatter, flowIOrange, "dotsOrange", [0.614, 0.677, 1, 1]);
flowFrame(iScatter);
var iHist = { x0: 187, x1: 301, y0: 1652, y1: 1766, lineW: 1.4 };
histLayer(iHist, histIGreen, "#74b94a");
histLayer(iHist, histIOrange, "#ee8c28");
histLayer(iHist, histIRed, "#ee2a24");
histLayer(iHist, histIBlue, "#1c4ea8");
flowFrame(iHist);
label(48, 1712, "CD127", { rot: -90 });
arrowL(50, 1782, 1745, 88.5);
label(94, 1783, "Sca1", { anchor: "start" });
arrowR(186.5, 224.5, 1782);
label(230.5, 1783, "Ki67", { anchor: "start" });
var subsetColors = ["#116db4", "#e8201c", "#e27a33", "#1ea855"];
barChart({ axisX: 372, xEnd: 631, y0: 1805, y1: 1613, max: 75, ticks: kiTicks75, values: iValues, tops: iTops, left: 392, right: 612.5, barWidth: 28, colors: subsetColors, barStroke: "#444", tickPad: 6, axisColor: "#777", tickFont: 17 });
sig(405, 469, 1724, "**", 1713, "#777", 1.3);
sig(470, 534, 1697, "**", 1687, "#777", 1.3);
sig(470, 597, 1661, "***", 1650, "#777", 1.3);
label(319, 1709, "%Ki67^+^", { rot: -90 });
var iCenters = [409, 471, 533.5, 595];
subsetTop.forEach(function(s, i) { label(iCenters[i], 1822, s, { size: 17 }); });
subsetBottom.forEach(function(s, i) { label(iCenters[i], 1841, s, { size: 16.5 }); });

/* SECTION: panel J */

panelLetter(663, 1591, "J");
label(722, 1617, "Uninfected");
label(722, 1636, "CD44^hi^ CD62L ^lo^");
var jHist = { x0: 664, x1: 779, y0: 1653, y1: 1767, lineW: 1.4 };
histLayer(jHist, histJGreen, "#74b94a");
histLayer(jHist, histJOrange, "#ee8c28");
histLayer(jHist, histJBlue, "#1c4ea8");
histLayer(jHist, histJRed, "#ee2a24");
flowFrame(jHist);
arrowR(663, 702, 1782);
label(706, 1783, "Ki67", { anchor: "start" });
barChart({ axisX: 830, xEnd: 1077, y0: 1805, y1: 1613, max: 75, ticks: kiTicks75, values: jValues, tops: jTops, left: 848, right: 1056, barWidth: 26.5, colors: subsetColors, barStroke: "#555", tickPad: 6, tickFont: 16.5 });
sig(857, 922, 1704, "**", 1694, "#444", 1);
sig(918, 983, 1678, "***", 1668, "#444", 1);
sig(918, 1047, 1627, "**", 1617, "#888", 1.6);
label(792, 1711, "%Ki67^+^", { rot: -90 });
var jCenters = [858, 922, 984, 1046];
subsetTop.forEach(function(s, i) { label(jCenters[i], 1822, s, { size: 17 }); });
subsetBottom.forEach(function(s, i) { label(jCenters[i], 1841, s, { size: 16.5 }); });
</script>
</body>
</html>
